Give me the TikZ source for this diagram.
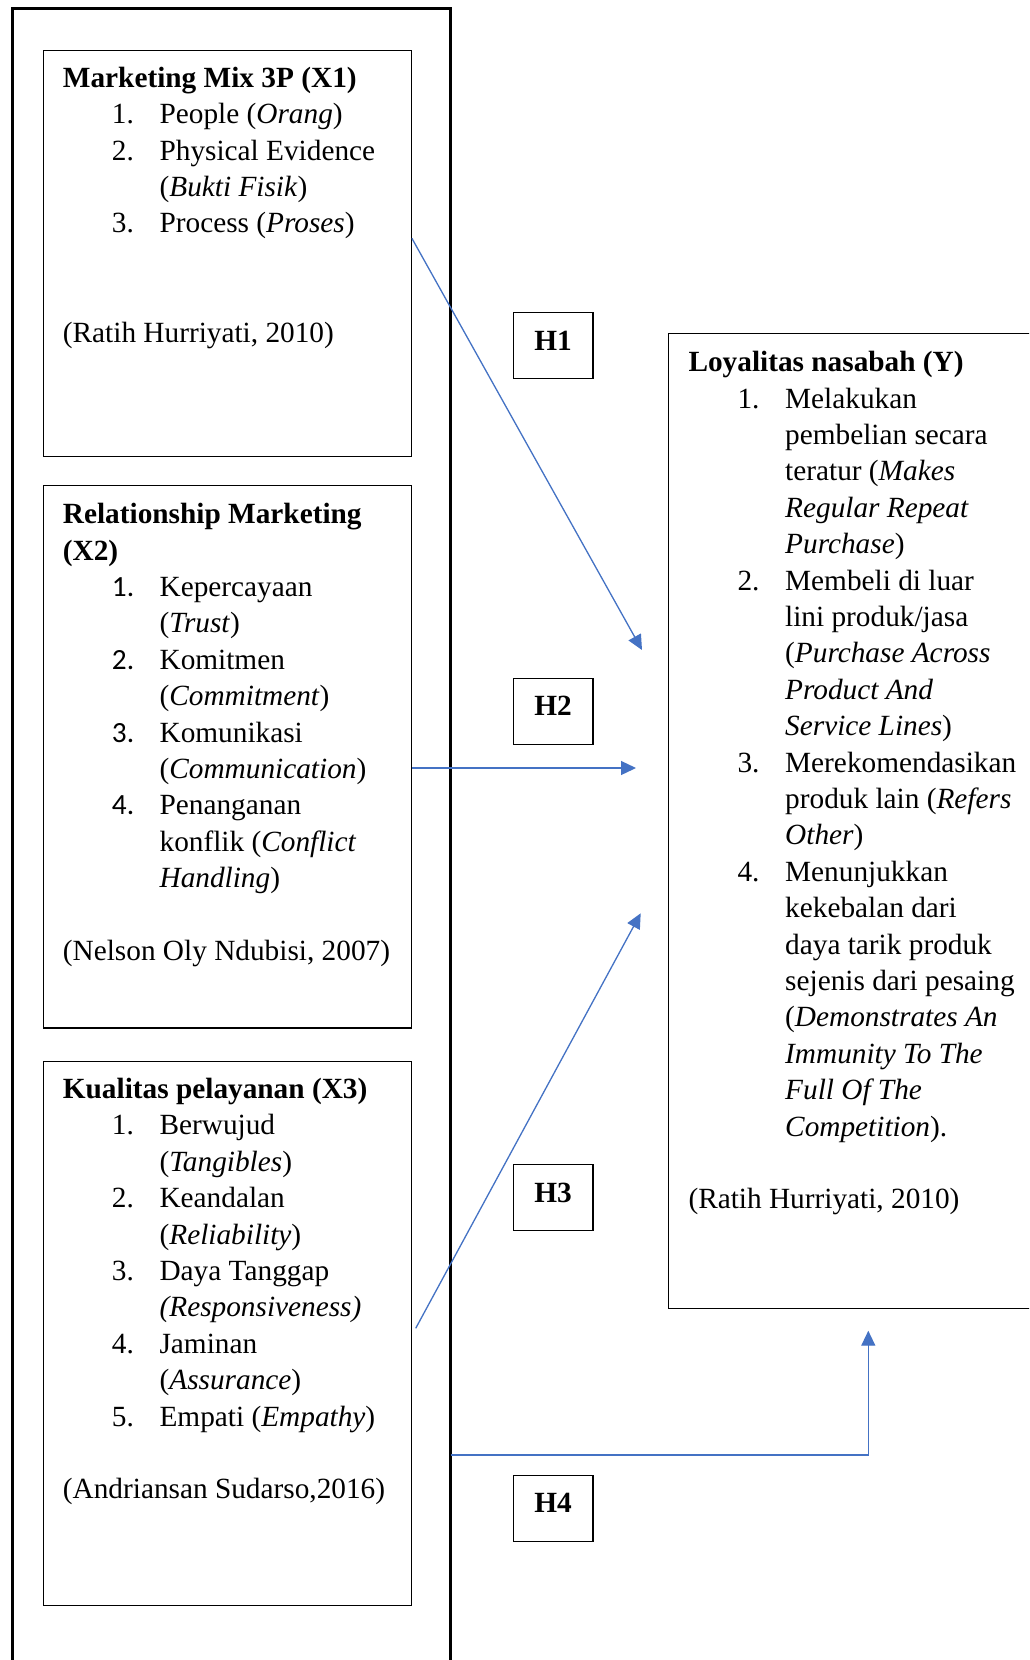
\documentclass[tikz,border=0pt]{standalone}
\usepackage{fontspec}
\setmainfont{Liberation Serif}
\newfontfamily\numfont{Carlito}
\usetikzlibrary{arrows.meta,calc}
\definecolor{arrowblue}{HTML}{4472C4}
\newcommand{\itm}[1]{\hspace*{49pt}\makebox[47.7pt][l]{#1}}
\newcommand{\cnt}{\hspace*{96.7pt}}
\newcommand{\itmc}[1]{\itm{\numfont #1}}
\tikzset{
  box/.style={draw=black, line width=1.2pt, inner sep=0pt, anchor=north west},
  hbox/.style={draw=black, line width=1.2pt, inner sep=0pt, anchor=north west,
    minimum width=79.6pt, minimum height=66pt},
  hlab/.style={inner sep=0pt, anchor=base, font=\fontsize{29.3}{36.4}\selectfont\bfseries},
  txt/.style={inner sep=0pt, anchor=base west, font=\fontsize{29.3}{36.4}\selectfont},
  frame/.style={draw=black, line width=3.6pt, line join=miter},
  conn/.style={draw=arrowblue, line width=1.3pt, -{Triangle[length=15pt,width=14pt]}},
}
\begin{document}
\begin{tikzpicture}[x=1pt,y=-1pt]
\useasboundingbox (0,0) rectangle (1029,1660);
\clip (0,0) rectangle (1029,1660);
\fill[white] (0,0) rectangle (1029,1660);

% outer frame (open at the bottom)
\draw[frame] (12.3,1700) -- (12.3,8.5) -- (450.5,8.5) -- (450.5,1700);

% variable boxes
\node[box, minimum width=368.2pt, minimum height=406pt] (x1) at (42.5,49.5) {};
\node[box, minimum width=368.2pt, minimum height=542.5pt] (x2) at (42.5,484.8) {};
\node[box, minimum width=368.2pt, minimum height=544pt] (x3) at (42.5,1061) {};
\node[box, minimum width=420pt, minimum height=975pt] (y) at (668,333) {};

% texts
\node[txt] (x1t) at (62.7,87.3) {\begin{tabular}[t]{@{}l@{}}
\textbf{Marketing Mix 3P (X1)}\\
\itm{1.}People (\textit{Orang})\\
\itm{2.}Physical Evidence\\
\cnt(\textit{Bukti Fisik})\\
\itm{3.}Process (\textit{Proses})\\
\\
\\
(Ratih Hurriyati, 2010)
\end{tabular}};

\node[txt] (x2t) at (62.7,523.6) {\begin{tabular}[t]{@{}l@{}}
\textbf{Relationship Marketing}\\
\textbf{(X2)}\\
\itmc{1.}Kepercayaan\\
\cnt(\textit{Trust})\\
\itmc{2.}Komitmen\\
\cnt(\textit{Commitment})\\
\itmc{3.}Komunikasi\\
\cnt(\textit{Communication})\\
\itmc{4.}Penanganan\\
\cnt konflik (\textit{Conflict}\\
\cnt\textit{Handling})\\
\\
(Nelson Oly Ndubisi, 2007)
\end{tabular}};

\node[txt] (x3t) at (62.7,1098.5) {\begin{tabular}[t]{@{}l@{}}
\textbf{Kualitas pelayanan (X3)}\\
\itm{1.}Berwujud\\
\cnt(\textit{Tangibles})\\
\itm{2.}Keandalan\\
\cnt(\textit{Reliability})\\
\itm{3.}Daya Tanggap\\
\cnt\textit{(Responsiveness)}\\
\itm{4.}Jaminan\\
\cnt(\textit{Assurance})\\
\itm{5.}Empati (\textit{Empathy})\\
\\
(Andriansan Sudarso,2016)
\end{tabular}};

\node[txt] (yt) at (688.3,371.7) {\begin{tabular}[t]{@{}l@{}}
\textbf{Loyalitas nasabah (Y)}\\
\itm{1.}Melakukan\\
\cnt pembelian secara\\
\cnt teratur (\textit{Makes}\\
\cnt\textit{Regular Repeat}\\
\cnt\textit{Purchase})\\
\itm{2.}Membeli di luar\\
\cnt lini produk/jasa\\
\cnt(\textit{Purchase Across}\\
\cnt\textit{Product And}\\
\cnt\textit{Service Lines})\\
\itm{3.}Merekomendasikan\\
\cnt produk lain (\textit{Refers}\\
\cnt\textit{Other})\\
\itm{4.}Menunjukkan\\
\cnt kekebalan dari\\
\cnt daya tarik produk\\
\cnt sejenis dari pesaing\\
\cnt(\textit{Demonstrates An}\\
\cnt\textit{Immunity To The}\\
\cnt\textit{Full Of The}\\
\cnt\textit{Competition}).\\
\\
(Ratih Hurriyati, 2010)
\end{tabular}};

% hypothesis boxes
\node[hbox] (h1) at (512.7,312) {};
\node[hbox] (h2) at (512.7,677.7) {};
\node[hbox] (h3) at (512.7,1164) {};
\node[hbox] (h4) at (512.7,1474.5) {};
\node[hlab] (h1t) at ($(h1.north)+(0,38)$) {H1};
\node[hlab] (h2t) at ($(h2.north)+(0,38)$) {H2};
\node[hlab] (h3t) at ($(h3.north)+(0,38)$) {H3};
\node[hlab] (h4t) at ($(h4.north)+(0,38)$) {H4};

% connector end points
\coordinate (h1s) at ($(x1.north east)+(0,188.8)$);
\coordinate (h1e) at (642,650);
\coordinate (h2s) at ($(x2.north east)+(0,283.2)$);
\coordinate (h2e) at (636,768);
\coordinate (h3s) at (415.7,1328.3);
\coordinate (h3e) at (640.7,913.3);
\coordinate (h4s) at (450.5,1455);
\coordinate (h4c) at (868.3,1455);
\coordinate (h4e) at (868.3,1330.7);

% connectors
\draw[conn] (h1s) -- (h1e);
\draw[conn] (h2s) -- (h2e);
\draw[conn] (h3s) -- (h3e);
\draw[conn] (h4s) -- (h4c) -- (h4e);
\end{tikzpicture}
\end{document}
